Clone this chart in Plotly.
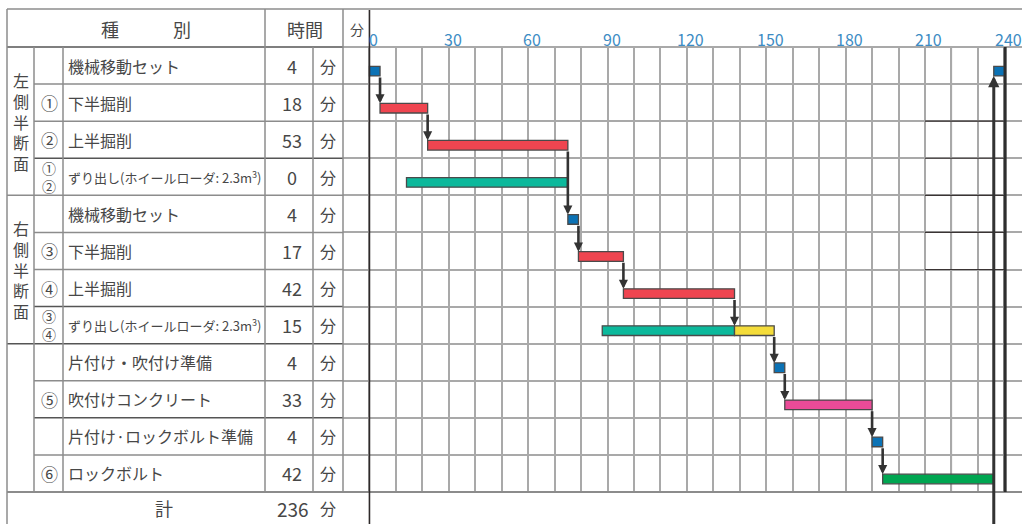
import plotly.graph_objects as go

# ---------------- data ----------------
task_names = ["機械移動セット", "下半掘削", "上半掘削", "ずり出し(ホイールローダ: 2.3m<sup>3</sup>)",
              "機械移動セット", "下半掘削", "上半掘削", "ずり出し(ホイールローダ: 2.3m<sup>3</sup>)",
              "片付け・吹付け準備", "吹付けコンクリート", "片付け·ロックボルト準備", "ロックボルト"]
step_marks = ["", "①", "②", "①|②", "", "③", "④", "③|④", "", "⑤", "", "⑥"]
durations = [4, 18, 53, 0, 4, 17, 42, 15, 4, 33, 4, 42]
unit_label = "分"
total_label = "計"
total_minutes = 236
section_labels = ["左側半断面", "右側半断面", ""]
section_first_row = [0, 4, 8]
section_last_row = [3, 7, 11]

# Gantt segments (row index, start minute, end minute, colour key)
seg_rows = [0, 1, 2, 3, 4, 5, 6, 7, 7, 8, 9, 10, 11, 0]
seg_start = [0, 4, 22, 14, 75, 79, 96, 88, 138, 153, 157, 190, 194, 236]
seg_end = [4, 22, 75, 75, 79, 96, 138, 138, 153, 157, 190, 194, 236, 240]
seg_kind = ["set", "dig", "dig", "muck", "set", "dig", "dig", "muck", "muck2",
            "set", "shot", "set", "bolt", "set"]
# order of the critical chain (indices into the segment lists)
chain = [0, 1, 2, 4, 5, 6, 8, 9, 10, 11, 12]
return_from, return_to = 12, 13

x_ticks = [0, 30, 60, 90, 120, 150, 180, 210, 240]
dark_minutes = [30, 140, 170, 220]

# ---------------- styles ----------------
COL = {"set": "#0b72b5", "dig": "#ef4550", "muck": "#0cb99c", "muck2": "#f4dc3a",
       "shot": "#eb4b98", "bolt": "#00a651"}
TXT = "#474747"
GRID = "#a9a9a9"
TLINE = "#8c8c8c"
DARK = "#3a3434"
TICKC = "#3d8cc4"
FONT = "Noto Sans CJK JP"

W, H = 1022, 524
L, R, T, B = 343, 1022, 47, 492
N = len(task_names)
ROW_H = (B - T) / N
PXMIN = (1004.3 - 369.4) / 240.0
X0 = -10
X1 = X0 + (R - L) / PXMIN
OFF, BH = 0.15, 0.26


def px(x):
    return (x - L) / (R - L)


def py(y):
    return (B - y) / (B - T)


def rowpx(k):
    return T + k * ROW_H


shapes = []
ann = []


def hline(y, x0, x1, color=TLINE, width=1.5):
    shapes.append(dict(type="line", xref="paper", yref="paper", x0=px(x0), x1=px(x1),
                       y0=py(y), y1=py(y), line=dict(color=color, width=width), layer="above"))


def vline(x, y0, y1, color=TLINE, width=1.5):
    shapes.append(dict(type="line", xref="paper", yref="paper", x0=px(x), x1=px(x),
                       y0=py(y0), y1=py(y1), line=dict(color=color, width=width), layer="above"))


def label(xpix, y, s, size, color=TXT, xanchor="center", yref="paper", **kw):
    ann.append(dict(x=px(xpix), y=y, xref="paper", yref=yref, text=s, showarrow=False,
                    xanchor=xanchor, yanchor="middle",
                    font=dict(family=FONT, size=size, color=color), **kw))


# ---------------- table frame ----------------
hline(9, 7, W, TLINE, 1.5)
hline(T, 7, L, "#555555", 1.6)
dark_rows = {3, 7, 8, 10}
for k in range(1, N):
    start_x = 7 if k in section_first_row else 34
    c = "#555555" if k in dark_rows else TLINE
    hline(rowpx(k), start_x, L, c, 1.5)
hline(B, 7, W, TLINE, 1.8)
vline(7, 9, H + 2)
vline(34, T, B)
vline(63, T, B)
vline(265, 9, B)
vline(313, T, B)
vline(L, 9, B)

# ---------------- chart extra lines ----------------
for m in dark_minutes:
    shapes.append(dict(type="line", xref="x", yref="paper", x0=m, x1=m, y0=0, y1=1,
                       line=dict(color=DARK, width=1.2), layer="between"))
for yb in [6.5, 9.5]:
    shapes.append(dict(type="line", xref="paper", yref="y", x0=0, x1=1, y0=yb, y1=yb,
                       line=dict(color=DARK, width=1.2), layer="between"))
for yb in [1.5, 2.5, 3.5, 4.5, 5.5]:
    shapes.append(dict(type="line", xref="x", yref="y", x0=210, x1=240, y0=yb, y1=yb,
                       line=dict(color=DARK, width=1.2), layer="between"))
shapes.append(dict(type="line", xref="paper", yref="paper", x0=0, x1=1, y0=1, y1=1,
                   line=dict(color=GRID, width=1.8), layer="between"))
# axis origin line and 240-min line
shapes.append(dict(type="line", xref="x", yref="paper", x0=0, x1=0, y0=py(H + 2), y1=py(10),
                   line=dict(color="#2e2a2a", width=1.6), layer="above"))
shapes.append(dict(type="line", xref="x", yref="paper", x0=240.3, x1=240.3, y0=0, y1=1,
                   line=dict(color="#2e2e2e", width=3), layer="above"))

# ---------------- table texts ----------------
label(146, py(29), "種　　　別", 18)
label(305, py(29), "時間", 18)
label(357, py(29), unit_label, 14)

for i in range(N):
    y = i
    nm = task_names[i]
    size = 13 if "<sup>" in nm else 16
    label(66, y, nm, size, xanchor="left", yref="y")
    mk = step_marks[i]
    if "|" in mk:
        label(49, y, "<br>".join(mk.split("|")), 14, yref="y")
    elif mk:
        label(49, y, mk, 17, yref="y")
    label(292, y, str(durations[i]), 18, yref="y")
    label(328, y, unit_label, 16, yref="y")

for s, a, b in zip(section_labels, section_first_row, section_last_row):
    if not s:
        continue
    cy = (rowpx(a) + rowpx(b + 1)) / 2
    label(21, py(cy), "<br>".join(list(s)), 16)

label(164, py(508), total_label, 18)
label(293, py(508), str(total_minutes), 19)
label(328, py(508), unit_label, 16)

# tick labels
for t in x_ticks:
    ann.append(dict(x=t, y=1, xref="x", yref="paper", text=str(t), showarrow=False,
                    xanchor="center", yanchor="bottom", yshift=-6, xshift=4,
                    font=dict(family=FONT, size=16, color=TICKC)))


# ---------------- arrows ----------------
def arrow(x, y_tail, y_head, width=2.6, size=0.7):
    ann.append(dict(x=x, y=y_head, ax=x, ay=y_tail, xref="x", yref="y", axref="x", ayref="y",
                    text="", showarrow=True, arrowhead=2, arrowsize=size, arrowwidth=width,
                    arrowcolor="#333333", standoff=0, startstandoff=0))


for a, b in zip(chain[:-1], chain[1:]):
    arrow(seg_end[a], seg_rows[a] + OFF + BH / 2, seg_rows[b] + OFF - BH / 2)

bottom_y = N - 0.5 + (H + 4 - B) / ROW_H
arrow(seg_end[return_from], bottom_y, seg_rows[return_to] + OFF + BH / 2, width=3, size=0.75)

# ---------------- bars ----------------
fig = go.Figure()
fig.add_trace(go.Bar(
    orientation="h",
    y=[r + OFF for r in seg_rows],
    x=[e - s for s, e in zip(seg_start, seg_end)],
    base=seg_start,
    width=BH,
    marker=dict(color=[COL[k] for k in seg_kind], line=dict(color="#4a4a4a", width=1.3)),
    hoverinfo="skip",
    showlegend=False,
))

fig.update_layout(
    width=W, height=H,
    margin=dict(l=L, r=W - R, t=T, b=H - B, pad=0),
    paper_bgcolor="white", plot_bgcolor="white",
    barmode="overlay",
    shapes=shapes, annotations=ann,
    xaxis=dict(range=[X0, X1], tick0=0, dtick=10, showgrid=True, gridcolor=GRID, gridwidth=1.8,
               showticklabels=False, zeroline=False, showline=False, ticks="", fixedrange=True),
    yaxis=dict(range=[N - 0.5, -0.5], tickmode="array", tickvals=[k - 0.5 for k in range(N + 1)],
               showgrid=True, gridcolor=GRID, gridwidth=1.8, showticklabels=False,
               zeroline=False, showline=False, ticks="", fixedrange=True),
    font=dict(family=FONT, color=TXT),
)

fig.write_html("out.html")
